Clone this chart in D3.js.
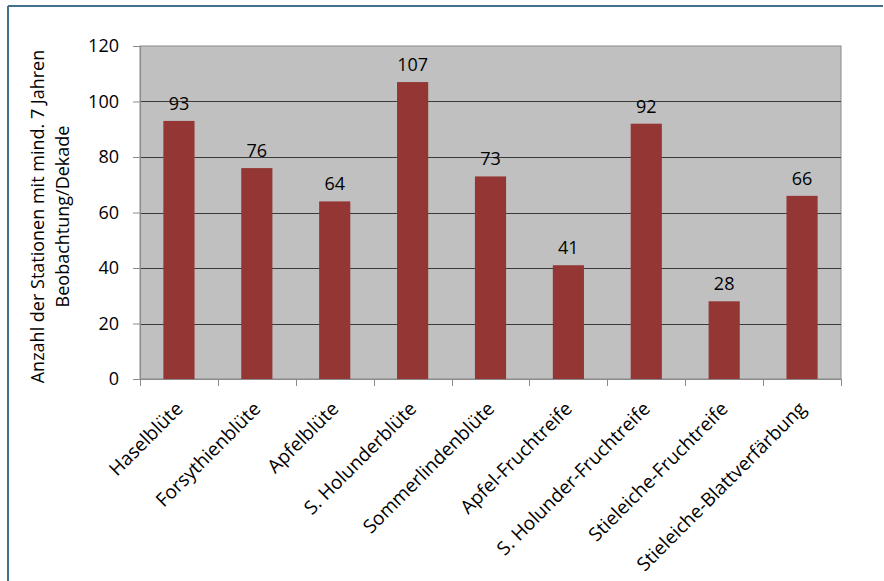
<!DOCTYPE html>
<html>
<head>
<meta charset="utf-8">
<script src="https://cdn.jsdelivr.net/npm/d3@7"></script>
<style>
  body { margin: 0; background: #fff; }
  svg { display: block; font-family: "Open Sans", sans-serif; }
</style>
</head>
<body>
<svg id="chart" width="884" height="581"></svg>
<script>
// Daten
const categories = [
  "Haselblüte", "Forsythienblüte", "Apfelblüte", "S. Holunderblüte",
  "Sommerlindenblüte", "Apfel-Fruchtreife", "S. Holunder-Fruchtreife",
  "Stieleiche-Fruchtreife", "Stieleiche-Blattverfärbung"
];
const values = [93, 76, 64, 107, 73, 41, 92, 28, 66];
const yTicks = [0, 20, 40, 60, 80, 100, 120];
const yLabelLines = ["Anzahl der Stationen mit mind. 7 Jahren", "Beobachtung/Dekade"];

const svg = d3.select("#chart");
const plot = { left: 140, right: 841, top: 46, bottom: 379 };

// Rahmen (oben + links)
svg.append("line")
  .attr("x1", 8).attr("y1", 6).attr("x2", 883).attr("y2", 6)
  .attr("stroke", "#44708e").attr("stroke-width", 2);
svg.append("line")
  .attr("x1", 8).attr("y1", 6).attr("x2", 8).attr("y2", 581)
  .attr("stroke", "#44708e").attr("stroke-width", 2);

const x = d3.scaleBand()
  .domain(categories)
  .range([plot.left, plot.right])
  .paddingInner(0.6)
  .paddingOuter(0.3);

const y = d3.scaleLinear()
  .domain([0, 120])
  .range([plot.bottom, plot.top]);

// Hintergrund
svg.append("rect")
  .attr("x", plot.left).attr("y", plot.top)
  .attr("width", plot.right - plot.left).attr("height", plot.bottom - plot.top)
  .attr("fill", "#c0c0c0")
  .attr("stroke", "#8a8a8a");

// Gitterlinien
svg.append("g")
  .selectAll("line")
  .data(yTicks.filter(t => t > 0 && t < 120))
  .join("line")
  .attr("x1", plot.left).attr("x2", plot.right)
  .attr("y1", d => Math.round(y(d)) + 0.5).attr("y2", d => Math.round(y(d)) + 0.5)
  .attr("stroke", "#3a3a3a");

// Balken
svg.append("g")
  .selectAll("rect")
  .data(values)
  .join("rect")
  .attr("x", (d, i) => x(categories[i]))
  .attr("y", d => y(d))
  .attr("width", x.bandwidth())
  .attr("height", d => y(0) - y(d))
  .attr("fill", "#943634");

// Datenbeschriftungen
svg.append("g")
  .selectAll("text")
  .data(values)
  .join("text")
  .attr("x", (d, i) => x(categories[i]) + x.bandwidth() / 2)
  .attr("y", d => y(d) - 11)
  .attr("text-anchor", "middle")
  .attr("font-size", 18)
  .attr("fill", "#000")
  .text(d => d);

// y-Achse
const yAxis = svg.append("g")
  .attr("transform", `translate(${plot.left},0)`)
  .call(d3.axisLeft(y).tickValues(yTicks).tickSize(7).tickPadding(14));
yAxis.select(".domain").attr("stroke", "#8a8a8a");
yAxis.selectAll(".tick line").attr("stroke", "#8a8a8a");
yAxis.selectAll(".tick text")
  .attr("font-size", 18)
  .attr("font-family", "Open Sans, sans-serif")
  .attr("fill", "#000");

// x-Achse
svg.append("line")
  .attr("x1", plot.left - 7).attr("x2", plot.right)
  .attr("y1", plot.bottom + 0.5).attr("y2", plot.bottom + 0.5)
  .attr("stroke", "#8a8a8a");
svg.append("g")
  .selectAll("line")
  .data(d3.range(categories.length + 1))
  .join("line")
  .attr("x1", i => Math.round(plot.left + i * x.step()) + 0.5)
  .attr("x2", i => Math.round(plot.left + i * x.step()) + 0.5)
  .attr("y1", plot.bottom).attr("y2", plot.bottom + 7)
  .attr("stroke", "#8a8a8a");

svg.append("g")
  .selectAll("text")
  .data(categories)
  .join("text")
  .attr("transform", d => `translate(${x(d) + x.bandwidth() / 2 + 5},${plot.bottom + 31}) rotate(-45)`)
  .attr("text-anchor", "end")
  .attr("font-size", 19)
  .attr("fill", "#000")
  .text(d => d);

// y-Achsentitel
const yTitle = svg.append("text")
  .attr("transform", `translate(50,${(plot.top + plot.bottom) / 2 + 4}) rotate(-90)`)
  .attr("text-anchor", "middle")
  .attr("font-size", 18)
  .attr("fill", "#000");
yTitle.selectAll("tspan")
  .data(yLabelLines)
  .join("tspan")
  .attr("x", 0)
  .attr("y", (d, i) => i * 25 - 6)
  .text(d => d);
</script>
</body>
</html>
